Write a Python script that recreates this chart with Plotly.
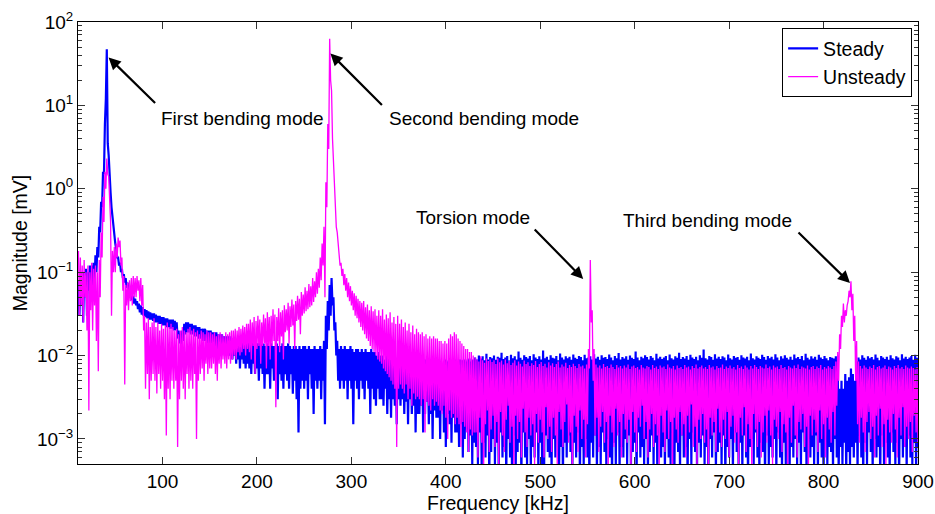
import numpy as np
import plotly.graph_objects as go

# Spectrum sampled every 1 kHz from 11 to 900 kHz.
# The noisy spectra are read off the picture as the top of the band (*_hi_mv, at the
# odd kHz samples 11, 13, ..., 899) and the bottom of the band (*_lo_mv, at the even
# kHz samples 12, 14, ..., 900).
freq_khz = np.arange(11, 901)

# ---------------- Steady [mV] ----------------
steady_hi_mv = [
    .08, .09, .1, .1, .11, .1, .12, .12, .13, .16,               # 11-29
    .2, .35, .7, 1.6, 6, 47, 2.5, .9, .45, .28,                  # 31-49
    .19, .15, .13, .11, .095, .085, .075, .065, .058, .052,      # 51-69
    .048, .045, .042, .04, .038, .036, .035, .034, .033, .032,   # 71-89
    .032, .031, .03, .03, .029, .029, .028, .028, .027, .027,    # 91-109
    .027, .026, .025, .02, .018, .02, .024, .025, .025, .024,    # 111-129
    .024, .023, .023, .022, .022, .021, .021, .021, .02, .02,    # 131-149
    .02, .019, .019, .019, .018, .018, .018, .017, .017, .017,   # 151-169
    .017, .016, .016, .016, .015, .016, .015, .015, .015, .015,  # 171-189
    .015, .014, .015, .014, .014, .014, .015, .014, .014, .013,  # 191-209
    .014, .013, .014, .013, .013, .014, .013, .013, .014, .013,  # 211-229
    .013, .014, .013, .012, .013, .013, .012, .013, .012, .013,  # 231-249
    .013, .012, .013, .012, .012, .013, .012, .012, .013, .012,  # 251-269
    .015, .03, .045, .07, .085, .05, .025, .015, .012, .013,     # 271-289
    .012, .013, .012, .012, .013, .012, .011, .012, .012, .011,  # 291-309
    .012, .011, .012, .011, .011, .012, .011, .011, .01, .011,   # 311-329
    .01, .01, .009, .01, .0095, .009, .01, .009, .009, .0095,    # 331-349
    .009, .009, .0085, .009, .0085, .009, .0085, .008, .009, .0085,     # 351-369
    .0085, .009, .008, .0085, .009, .008, .0085, .009, .008, .0085,     # 371-389
    .0085, .009, .0085, .008, .009, .0085, .0088, .009, .0085, .009,    # 391-409
    .009, .0085, .009, .0088, .009, .0085, .009, .0092, .0085, .009,    # 411-429
    .0095, .009, .01, .0092, .0098, .0088, .0105, .009, .0096, .0093,   # 431-449
    .01, .0089, .0097, .0094, .0108, .0091, .0095, .0099, .0087, .0102, # 451-469
    .0093, .0098, .009, .0112, .0094, .0089, .0101, .0096, .0092, .0099,# 471-489
    .0088, .0104, .0095, .0091, .0098, .009, .0115, .0093, .0097, .0089,# 491-509
    .0101, .0094, .0092, .0099, .0088, .0106, .0095, .009, .0098, .0093,# 511-529
    .0097, .0089, .0103, .0094, .0091, .0099, .0096, .0088, .0102, .0093,   # 531-549
    .0095, .0098, .009, .0104, .0092, .0097, .0089, .0101, .0094, .0096,    # 551-569
    .0091, .0103, .0095, .0088, .0099, .0093, .0107, .009, .0096, .0092,    # 571-589
    .0098, .0089, .01, .0094, .0091, .0112, .0095, .0088, .0097, .0093,     # 591-609
    .0101, .0096, .009, .0099, .0094, .0088, .0105, .0092, .0097, .0091,    # 611-629
    .0095, .0099, .0088, .0103, .0093, .009, .0098, .0094, .0108, .0091,    # 631-649
    .0096, .0092, .0099, .0089, .0102, .0095, .0091, .0097, .0088, .0101,   # 651-669
    .0094, .0118, .0093, .009, .0099, .0096, .0089, .0104, .0092, .0097,    # 671-689
    .0091, .0098, .0095, .0088, .0103, .0093, .009, .0099, .0094, .0096,    # 691-709
    .0089, .0101, .0095, .0092, .0097, .0088, .0106, .0093, .009, .0098,    # 711-729
    .0094, .0091, .0102, .0096, .0089, .0099, .0093, .0097, .009, .0104,    # 731-749
    .0095, .0088, .0098, .0092, .0101, .0094, .009, .0097, .0089, .0103,    # 751-769
    .0093, .0096, .0091, .0099, .0088, .0105, .0094, .009, .0098, .0092,    # 771-789
    .0097, .0089, .0102, .0095, .0091, .0099, .0093, .0088, .0096, .0094,   # 791-809
    .0092, .0098, .007, .004, .005, .004, .006, .005, .0055, .007,          # 811-829
    .006, .005, .0085, .0095, .009, .0101, .0094, .0089, .0098, .0093,     # 831-849
    .0096, .009, .0103, .0094, .0088, .0099, .0095, .0091, .0097, .0089,   # 851-869
    .0101, .0093, .009, .0098, .0095, .0088, .0104, .0092, .0097, .0091,   # 871-889
    .0095, .0099, .0089, .0102, .0094,                                     # 891-899
]
steady_lo_mv = [
    .03, .04, .025, .05, .03, .06, .05, .07, .08, .1,            # 12-30
    .15, .3, .6, 1.5, 12, 3.5, 1.2, .6, .35, .22,                # 32-50
    .15, .12, .1, .085, .075, .065, .058, .05, .046, .042,       # 52-70
    .04, .036, .033, .031, .03, .029, .028, .027, .027, .026,    # 72-90
    .025, .025, .024, .024, .023, .023, .022, .022, .021, .021,  # 92-110
    .02, .02, .016, .014, .013, .015, .018, .019, .019, .018,    # 112-130
    .018, .017, .017, .016, .016, .015, .015, .015, .014, .014,  # 132-150
    .014, .013, .013, .012, .012, .012, .011, .01, .011, .01,    # 152-170
    .01, .009, .01, .008, .009, .007, .009, .008, .007, .008,    # 172-190
    .007, .006, .008, .006, .007, .005, .007, .006, .004, .006,  # 192-210
    .006, .004, .007, .005, .006, .003, .006, .005, .004, .006,  # 212-230
    .005, .004, .006, .0035, .005, .003, .0012, .004, .005, .004,   # 232-250
    .005, .003, .006, .004, .002, .005, .004, .005, .003, .005,     # 252-270
    .0015, .012, .02, .03, .04, .02, .01, .005, .004, .005,         # 272-290
    .004, .005, .003, .005, .004, .0015, .005, .004, .003, .005,    # 292-310
    .004, .003, .005, .004, .002, .004, .003, .0025, .004, .003,    # 312-330
    .003, .0025, .004, .002, .003, .0018, .003, .0025, .0015, .003, # 332-350
    .0025, .003, .002, .0028, .0015, .003, .002, .0025, .0012, .002,    # 352-370
    .002, .0025, .0012, .002, .0028, .0015, .002, .001, .0022, .0018,  # 372-390
    .0018, .001, .0022, .0012, .0008, .002, .0015, .0009, .0018, .0012, # 392-410
    .0012, .0008, .0015, .0006, .001, .0013, .0007, .0011, .0005, .0009,   # 412-430
    .0008, .0005, .0012, .0004, .0009, .0006, .0011, .0003, .0007, .001,   # 432-450
    .0005, .0009, .0004, .0012, .0006, .0008, .0003, .001, .0006, .0005,   # 452-470
    .0011, .0004, .0007, .0009, .0003, .0012, .0006, .0005, .001, .0004,   # 472-490
    .0008, .0006, .0012, .0004, .0009, .0005, .0003, .0011, .0007, .0006,  # 492-510
    .0004, .001, .0006, .0013, .0005, .0008, .0003, .0009, .0006, .0011,   # 512-530
    .0007, .0004, .0009, .0006, .0012, .0003, .0008, .0005, .001, .0006,   # 532-550
    .0003, .0009, .0006, .0011, .0004, .0008, .0005, .0012, .0007, .0004,  # 552-570
    .001, .0006, .0003, .0009, .0005, .0012, .0004, .0008, .0006, .001,    # 572-590
    .0005, .0011, .0004, .0007, .0009, .0003, .0012, .0006, .0008, .0005,  # 592-610
    .001, .0004, .0007, .0011, .0005, .0009, .0003, .0012, .0006, .0008,   # 612-630
    .0004, .001, .0006, .0005, .0012, .0003, .0009, .0007, .0004, .0011,   # 632-650
    .0006, .0008, .0003, .001, .0005, .0012, .0007, .0004, .0009, .0006,   # 652-670
    .0011, .0005, .0008, .0003, .001, .0006, .0012, .0004, .0007, .0009,   # 672-690
    .0005, .0011, .0003, .0008, .0006, .001, .0004, .0012, .0007, .0005,   # 692-710
    .0009, .0004, .0011, .0006, .0003, .0008, .001, .0005, .0012, .0006,   # 712-730
    .0004, .0009, .0007, .0003, .0011, .0005, .0008, .0006, .001, .0004,   # 732-750
    .0012, .0006, .0004, .0009, .0005, .0011, .0003, .0008, .0006, .001,   # 752-770
    .0005, .0009, .0004, .0012, .0007, .0003, .001, .0006, .0008, .0005,   # 772-790
    .0011, .0004, .0009, .0006, .0003, .0012, .0005, .0008, .0007, .0004,  # 792-810
    .001, .0006, .0004, .0008, .0005, .0009, .0004, .0007, .0005, .0008,   # 812-830
    .0006, .0009, .0004, .0011, .0006, .0003, .0009, .0005, .0012, .0007,  # 832-850
    .0004, .001, .0006, .0008, .0003, .0011, .0005, .0009, .0006, .0004,   # 852-870
    .0012, .0007, .0005, .0009, .0003, .001, .0006, .0008, .0004, .0011,   # 872-890
    .0006, .0005, .0009, .0004, .0008,                                     # 892-900
]

# ---------------- Unsteady [mV] ----------------
unsteady_hi_mv = [
    .18, .15, .12, .14, .1, .12, .1, .13, .11, .12,              # 11-29
    .1, .14, .3, .8, 1.6, 2.3, 1.4, .4, .18, .2,                 # 31-49
    .22, .26, .24, .15, .09, .07, .075, .08, .085, .09,          # 51-69
    .085, .09, .08, .085, .07, .03, .025, .028, .022, .025,      # 71-89
    .028, .022, .025, .02, .024, .021, .023, .025, .022, .024,   # 91-109
    .022, .02, .021, .018, .02, .022, .02, .019, .021, .022,     # 111-129
    .02, .021, .019, .02, .018, .02, .019, .018, .02, .019,      # 131-149
    .019, .018, .019, .017, .018, .019, .018, .017, .019, .018,  # 151-169
    .019, .02, .02, .021, .02, .022, .021, .023, .022, .024,     # 171-189
    .024, .027, .025, .029, .026, .03, .027, .025, .031, .028,   # 191-209
    .033, .029, .03, .036, .031, .029, .037, .033, .035, .04,    # 211-229
    .036, .043, .039, .047, .041, .045, .052, .048, .058, .054,  # 231-249
    .066, .06, .072, .068, .085, .078, .1, .11, .15, .22,        # 251-269
    .35, 1.2, 6, 63, 15, 2, .6, .3, .18, .13,                    # 271-289
    .11, .095, .085, .075, .068, .06, .056, .052, .048, .045,    # 291-309
    .043, .045, .038, .041, .035, .039, .034, .036, .03, .035,   # 311-329
    .03, .036, .027, .031, .028, .033, .025, .029, .024, .03,    # 331-349
    .024, .027, .022, .025, .02, .024, .019, .023, .018, .021,   # 351-369
    .019, .018, .019, .017, .018, .016, .017, .016, .017, .016,  # 371-389
    .016, .015, .015, .014, .015, .014, .016, .018, .017, .019,  # 391-409
    .018, .016, .015, .014, .013, .012, .012, .011, .011, .01,   # 411-429
    .0095, .009, .0085, .0098, .0088, .0082, .0092, .0086, .009, .0084,    # 431-449
    .0088, .0079, .0092, .0083, .0087, .0078, .009, .0081, .0086, .0077,   # 451-469
    .0082, .0088, .0076, .0085, .008, .0074, .0087, .0079, .0083, .0075,   # 471-489
    .0081, .0077, .0086, .0073, .0079, .0084, .0075, .008, .0072, .0083,   # 491-509
    .0076, .0081, .0073, .0079, .0085, .0072, .0078, .0074, .0082, .0071,  # 511-529
    .0077, .0073, .008, .0075, .0071, .0079, .0074, .0076, .007, .0078,    # 531-549
    .012, .14, .035, .012, .0078, .0072, .0076, .007, .0079, .0073,        # 551-569
    .0075, .0071, .0078, .0073, .0069, .0077, .0072, .0075, .007, .0076,   # 571-589
    .0072, .0078, .0069, .0074, .0076, .0071, .0073, .0068, .0077, .0072,  # 591-609
    .007, .0075, .0073, .0068, .0077, .0071, .0074, .0069, .0076, .0072,   # 611-629
    .0074, .0069, .0078, .0072, .007, .0075, .0068, .0076, .0071, .0073,   # 631-649
    .0069, .0077, .0072, .0074, .0068, .0075, .0071, .0078, .007, .0073,   # 651-669
    .0076, .007, .0073, .0069, .0077, .0072, .0074, .0068, .0075, .0071,   # 671-689
    .0072, .0078, .0069, .0074, .0071, .0076, .007, .0073, .0068, .0077,   # 691-709
    .0071, .0074, .0069, .0076, .0072, .0068, .0075, .007, .0077, .0073,   # 711-729
    .0069, .0075, .0072, .007, .0078, .0071, .0074, .0068, .0076, .0072,   # 731-749
    .0074, .0069, .0077, .0071, .0073, .0068, .0075, .0072, .007, .0076,   # 751-769
    .0071, .0078, .0069, .0074, .0072, .007, .0076, .0068, .0073, .0075,   # 771-789
    .0069, .0074, .0071, .0077, .0068, .0073, .007, .0075, .0072, .0069,   # 791-809
    .0075, .0085, .011, .018, .03, .042, .035, .04, .06, .078,             # 811-829
    .055, .03, .015, .0085, .0075, .007, .0076, .0072, .0069, .0074,       # 831-849
    .0071, .0077, .0068, .0073, .0075, .007, .0072, .0076, .0069, .0074,   # 851-869
    .0072, .0068, .0075, .0071, .0077, .007, .0073, .0069, .0076, .0072,   # 871-889
    .007, .0074, .0071, .0068, .0073,                                      # 891-899
]
unsteady_lo_mv = [
    .03, .04, .025, .05, .02, .0022, .035, .02, .04, .015,       # 12-30
    .0065, .05, .15, .4, 1.0, 1.5, .5, .03, .1, .1,              # 32-50
    .15, .2, .12, .06, .0045, .04, .035, .045, .04, .05,         # 52-70
    .05, .06, .045, .04, .02, .004, .006, .003, .005, .006,      # 72-90
    .005, .0035, .006, .004, .005, .003, .0011, .004, .003, .005,    # 92-110
    .004, .005, .0008, .003, .005, .004, .003, .006, .004, .005,     # 112-130
    .004, .006, .001, .005, .006, .007, .005, .008, .006, .007,      # 132-150
    .007, .008, .006, .005, .008, .007, .009, .008, .007, .009,      # 152-170
    .008, .009, .01, .009, .011, .01, .011, .012, .01, .012,         # 172-190
    .011, .009, .013, .006, .012, .013, .008, .013, .014, .007,      # 192-210
    .013, .009, .013, .015, .0024, .015, .011, .017, .009, .019,     # 212-230
    .02, .014, .022, .023, .012, .026, .027, .018, .03, .032,        # 232-250
    .034, .036, .038, .04, .044, .05, .055, .065, .08, .12,          # 252-270
    .05, .6, 3, 20, 4, .9, .35, .2, .12, .09,                        # 272-290
    .07, .06, .05, .045, .04, .035, .03, .028, .025, .022,           # 292-310
    .02, .018, .016, .015, .013, .012, .011, .01, .009, .0085,       # 312-330
    .008, .007, .0065, .006, .0055, .005, .0045, .004, .0008, .004,  # 332-350
    .0045, .004, .0035, .0045, .003, .004, .0025, .0035, .003, .0032,    # 352-370
    .003, .0025, .003, .0012, .0028, .0025, .0022, .003, .0025, .0028,  # 372-390
    .0025, .0022, .002, .0025, .0018, .001, .0022, .0018, .002, .0015,  # 392-410
    .0018, .0015, .0008, .0016, .0014, .0012, .0007, .0013, .0011, .0012,   # 412-430
    .0012, .0006, .0018, .0009, .0004, .0015, .0022, .0007, .0013, .0019,   # 432-450
    .0008, .0016, .0005, .0021, .0011, .0007, .0017, .0025, .0009, .0014,   # 452-470
    .0004, .0019, .001, .0016, .0006, .0023, .0012, .0008, .0018, .0011,    # 472-490
    .0015, .0005, .002, .0009, .0017, .0012, .0006, .0024, .001, .0014,     # 492-510
    .0007, .0018, .0011, .0005, .0021, .0013, .0008, .0016, .0026, .0009,   # 512-530
    .0012, .0004, .0019, .0014, .0007, .0022, .001, .0017, .0006, .0015,    # 532-550
    .007, .025, .005, .0011, .0018, .0007, .0014, .0021, .0009, .0016,     # 552-570
    .0005, .0019, .0012, .0008, .0023, .0011, .0016, .0006, .002, .0013,   # 572-590
    .0009, .0017, .0004, .0021, .0012, .0007, .0018, .0014, .0025, .001,   # 592-610
    .0016, .0006, .0013, .002, .0008, .0015, .0011, .0005, .0019, .0012,   # 612-630
    .0007, .0022, .001, .0016, .0004, .0018, .0013, .0009, .0021, .0011,   # 632-650
    .0015, .0006, .0019, .0012, .0026, .0008, .0014, .0005, .0017, .001,   # 652-670
    .002, .0009, .0013, .0004, .0018, .0011, .0016, .0007, .0023, .0012,   # 672-690
    .0008, .0017, .001, .0021, .0006, .0014, .0019, .0009, .0012, .0005,   # 692-710
    .0018, .0011, .0024, .0007, .0015, .001, .0004, .002, .0013, .0008,    # 712-730
    .0016, .0006, .0012, .0019, .0009, .0022, .0011, .0005, .0017, .0014,  # 732-750
    .001, .0021, .0007, .0015, .0012, .0004, .0018, .0009, .0025, .0011,   # 752-770
    .0006, .0016, .0013, .002, .0008, .0014, .0005, .0019, .0011, .0017,   # 772-790
    .0012, .0007, .0022, .001, .0015, .0006, .0018, .0013, .0009, .0021,   # 792-810
    .0011, .0025, .005, .012, .022, .025, .03, .045, .05, .035,            # 812-830
    .015, .005, .0015, .0009, .0018, .0012, .0007, .0016, .0021, .001,     # 832-850
    .0014, .0006, .0019, .0011, .0023, .0008, .0015, .0005, .0017, .0012,  # 852-870
    .0009, .002, .0013, .0006, .0018, .0011, .0024, .0008, .0014, .001,    # 872-890
    .0016, .0007, .0019, .0012, .0009,                                     # 892-900
]


def merge_band(hi_vals, lo_vals):
    """Put the odd-kHz (top) and even-kHz (bottom) readings in frequency order."""
    out = np.empty(len(hi_vals) + len(lo_vals))
    out[0::2] = hi_vals
    out[1::2] = lo_vals
    return out


steady_mv = merge_band(steady_hi_mv, steady_lo_mv)
unsteady_mv = merge_band(unsteady_hi_mv, unsteady_lo_mv)
assert len(steady_mv) == len(freq_khz) == len(unsteady_mv)

x_tick_vals = [100, 200, 300, 400, 500, 600, 700, 800, 900]
y_tick_vals = [1e-3, 1e-2, 1e-1, 1, 10, 100]
y_tick_text = ["10<sup>−3</sup>", "10<sup>−2</sup>", "10<sup>−1</sup>",
               "10<sup>0</sup>", "10<sup>1</sup>", "10<sup>2</sup>"]
y_minor_vals = [m * 10.0 ** e for e in range(-4, 2) for m in range(2, 10)]

# Mode annotations: label, label centre (kHz, mV), arrow head (kHz, mV), tail offset (px)
mode_labels = ["First bending mode", "Second bending mode", "Torsion mode", "Third bending mode"]
label_pos = [(184.9, 6.98), (440.4, 6.98), (428.8, 0.452), (677.4, 0.416)]
arrow_head = [(42.9, 37.6), (277.8, 42.0), (545.5, 0.083), (828.0, 0.074)]
arrow_tail_px = [(48, 47), (53, 53), (-50, -51), (-53, -52)]

FONT = "Liberation Sans, Arial, Helvetica, sans-serif"

fig = go.Figure()
fig.add_trace(go.Scatter(x=freq_khz, y=steady_mv, mode="lines", name="Steady",
                         line=dict(color="#0000FF", width=2.2)))
fig.add_trace(go.Scatter(x=freq_khz, y=unsteady_mv, mode="lines", name="Unsteady",
                         line=dict(color="#FF00FF", width=1.3)))

annotations = []
for lbl, (lx, ly), (hx, hy), (ax, ay) in zip(mode_labels, label_pos, arrow_head, arrow_tail_px):
    annotations.append(dict(x=lx, y=np.log10(ly), xref="x", yref="y", text=lbl,
                            showarrow=False, font=dict(size=19, color="black", family=FONT)))
    annotations.append(dict(x=hx, y=np.log10(hy), xref="x", yref="y", text="",
                            showarrow=True, ax=ax, ay=ay, arrowhead=2, arrowsize=1.1,
                            arrowwidth=2.2, arrowcolor="black", standoff=0))

fig.update_layout(
    width=935, height=514,
    margin=dict(l=78, r=17, t=22, b=50, autoexpand=False),
    paper_bgcolor="white", plot_bgcolor="white",
    font=dict(family=FONT, size=19, color="black"),
    showlegend=True,
    legend=dict(x=0.993, y=0.986, xanchor="right", yanchor="top",
                bgcolor="white", bordercolor="black", borderwidth=1,
                font=dict(size=19.5, family=FONT), tracegroupgap=0, itemwidth=30),
    annotations=annotations,
)
fig.update_xaxes(range=[10.5, 900], tickvals=x_tick_vals, ticks="inside", ticklen=7,
                 tickcolor="#333", showline=True, linecolor="black", linewidth=1,
                 mirror="ticks", showgrid=False, zeroline=False, automargin=False,
                 title=dict(text="Frequency [kHz]", standoff=8,
                            font=dict(size=19.5, family=FONT, color="black")),
                 tickfont=dict(size=19, family=FONT, color="black"))
fig.update_yaxes(type="log", range=[-3.3, 2], tickvals=y_tick_vals, ticktext=y_tick_text,
                 ticks="inside", ticklen=7, tickcolor="#333", showline=True,
                 linecolor="black", linewidth=1, mirror="ticks", showgrid=False,
                 zeroline=False, automargin=False,
                 title=dict(text="Magnitude [mV]", standoff=4,
                            font=dict(size=19.5, family=FONT, color="black")),
                 tickfont=dict(size=19, family=FONT, color="black"),
                 minor=dict(tickmode="array", tickvals=y_minor_vals, ticks="inside",
                            ticklen=4, tickcolor="#333", showgrid=False))

fig.write_html("out.html")
